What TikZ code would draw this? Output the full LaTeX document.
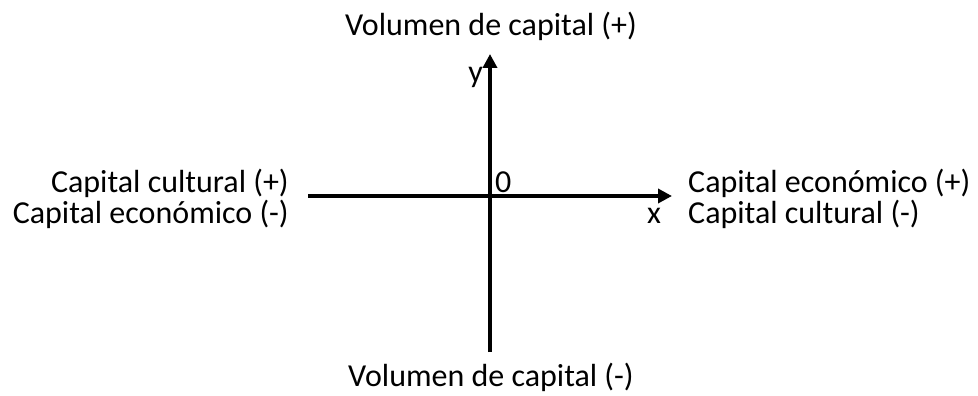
\documentclass[tikz,border=0pt]{standalone}
\usepackage{fontspec}
\setmainfont{Carlito}
\usetikzlibrary{arrows.meta}
\begin{document}
\begin{tikzpicture}[x=1pt,y=-1pt,
  lbl/.style={font=\fontsize{32}{33}\selectfont, inner sep=0pt},
  axis/.style={line width=3.6pt, -{Triangle[length=14pt,width=14pt]}}]
\useasboundingbox (0,0) rectangle (978,396);
\coordinate (xl) at (308,196);
\coordinate (xr) at (672,196);
\coordinate (yb) at (490,352);
\coordinate (yt) at (490,54);
\draw[axis] (xl) -- (xr);
\draw[axis] (yb) -- (yt);
\node[lbl, anchor=base] (top) at (491,36) {Volumen de capital (+)};
\node[lbl, anchor=base] (bot) at (491,386) {Volumen de capital (-)};
\node[lbl, anchor=base east] (l1) at (289,192) {Capital cultural (+)};
\node[lbl, anchor=base east] (l2) at (289,223) {Capital económico (-)};
\node[lbl, anchor=base west] (r1) at (688,192) {Capital económico (+)};
\node[lbl, anchor=base west] (r2) at (688,223) {Capital cultural (-)};
\node[lbl, anchor=base west] (xlab) at (647,223) {x};
\node[lbl, anchor=base east] (ylab) at (483,82) {y};
\node[lbl, anchor=base west] (orig) at (495,192) {0};
\end{tikzpicture}
\end{document}
